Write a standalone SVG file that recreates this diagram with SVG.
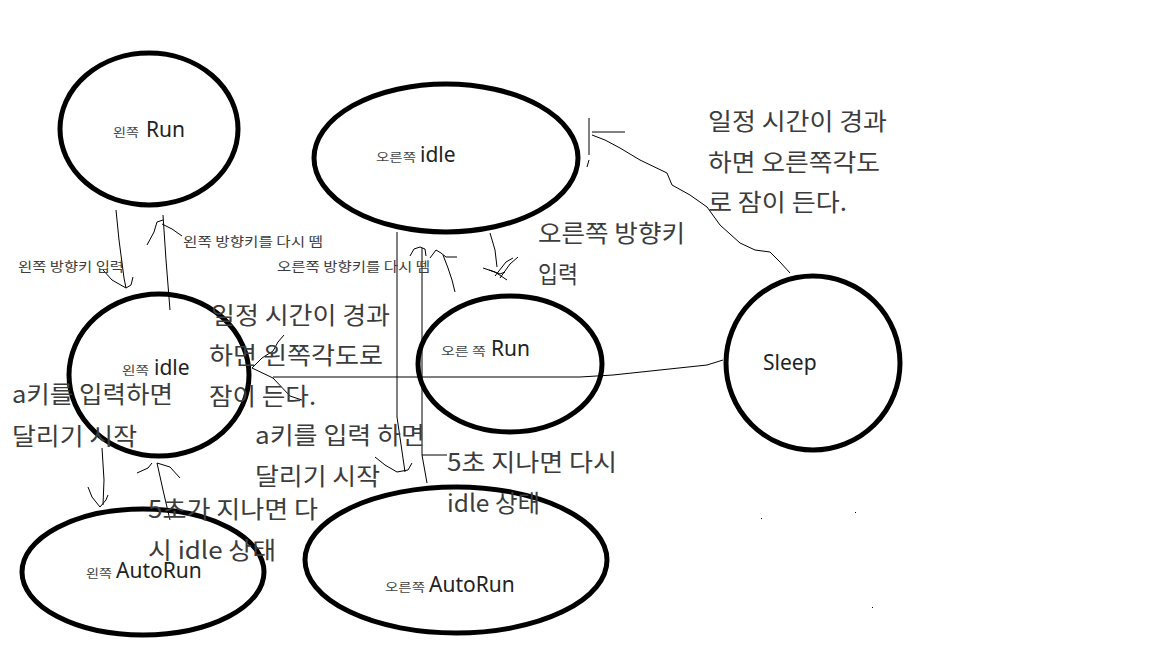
<svg xmlns="http://www.w3.org/2000/svg" width="1154" height="648" viewBox="0 0 1154 648">
<style>
.st{fill:none;stroke:#000;stroke-width:5}
.ln{fill:none;stroke:#000;stroke-width:1}
.big{font-family:"Noto Sans CJK KR","Noto Sans",sans-serif;font-size:24px;fill:#3c3c3c}
.sm{font-family:"Noto Sans CJK KR","Noto Sans",sans-serif;font-size:13px;fill:#3c3c3c}
.nl{font-family:"Noto Sans","Noto Sans CJK KR",sans-serif;font-size:21px;fill:#222}
.ns{font-family:"Noto Sans CJK KR",sans-serif;font-size:12.5px;fill:#444}
</style>
<rect width="1154" height="648" fill="#fff"/>
<g id="node-left-run">
<ellipse class="st" cx="149" cy="129" rx="89" ry="76"/>
<text x="113" y="137" class="ns" textLength="26" lengthAdjust="spacingAndGlyphs">왼쪽</text><text x="146" y="137" class="nl">Run</text>
</g>
<g id="node-right-idle">
<ellipse class="st" cx="446" cy="158" rx="132" ry="74"/>
<text x="376" y="162" class="ns" textLength="40" lengthAdjust="spacingAndGlyphs">오른쪽</text><text x="420" y="162" class="nl">idle</text>
</g>
<g id="node-left-idle">
<ellipse class="st" cx="159" cy="375" rx="90" ry="81"/>
<text x="122" y="375" class="ns" textLength="27" lengthAdjust="spacingAndGlyphs">왼쪽</text><text x="154" y="375" class="nl">idle</text>
</g>
<g id="node-right-run">
<ellipse class="st" cx="510" cy="364" rx="92" ry="68"/>
<text x="441" y="356" class="ns" textLength="45" lengthAdjust="spacingAndGlyphs">오른 쪽</text><text x="491" y="356" class="nl">Run</text>
</g>
<g id="node-sleep">
<ellipse class="st" cx="813" cy="363" rx="87" ry="87"/>
<text x="763" y="370" class="nl">Sleep</text>
</g>
<g id="node-left-autorun">
<ellipse class="st" cx="143" cy="572" rx="121" ry="63"/>
<text x="86" y="578" class="ns" textLength="26" lengthAdjust="spacingAndGlyphs">왼쪽</text><text x="116" y="578" class="nl">AutoRun</text>
</g>
<g id="node-right-autorun">
<ellipse class="st" cx="456" cy="560" rx="151" ry="73"/>
<text x="385" y="592" class="ns" textLength="40" lengthAdjust="spacingAndGlyphs">오른쪽</text><text x="429" y="592" class="nl">AutoRun</text>
</g>
<g id="connectors">
<path class="ln" d="M116,210 L119,240 L124,278 L126,288 M103,270 L112,280 L126,288 L131,285 L133,277"/>
<path class="ln" d="M163,215 L166,260 L170,310 M147,245 L154,232 L157,222 L163,220 M162,224 L172,229 L182,236"/>
<path class="ln" d="M397,232 L397,417 L405,472 M375,457 L385,465 L397,472 L408,470 L412,463"/>
<path class="ln" d="M422,248 L422,455 L427,483 M422,455 L447,455 M410,256 L414,249 L420,247 L425,249 L426,256 M430,258 L436,250 L441,253 L446,257 L457,257 M443,255 L448,268 L452,280 L455,292"/>
<path class="ln" d="M490,233 L495,250 L497,267 M483,268 L495,272 L507,280 M500,278 L510,264 L518,257 M495,276 L506,262 L513,258 M489,270 L500,274 L505,272"/>
<path class="ln" d="M589,118 L589,155 M587,167 L589,160 M592,132 L625,132 M592,135 L605,140 L620,148 L640,160 L667,173 L672,185 L690,195 L707,207 L720,225 L740,243 L755,250 L770,252 L780,262 L790,273"/>
<path class="ln" d="M723,360 L707,365 L613,375 L580,377 L273,377 M284,335 L278,342 L273,351 L262,358 L252,368 L273,378 L290,396 L302,400"/>
<path class="ln" d="M102,448 L104,480 L103,505 M88,487 L92,497 L100,507 L106,500 L108,495"/>
<path class="ln" d="M157,463 L163,490 L170,520 M137,473 L148,468 L152,463 M157,463 L170,467 L180,478"/>
</g>
<g id="labels">
<text x="18" y="271" class="sm" textLength="106" lengthAdjust="spacingAndGlyphs">왼쪽 방향키 입력</text>
<text x="183" y="246" class="sm" textLength="140" lengthAdjust="spacingAndGlyphs">왼쪽 방향키를 다시 뗌</text>
<text x="277" y="271" class="sm" textLength="153" lengthAdjust="spacingAndGlyphs">오른쪽 방향키를 다시 뗌</text>
<text x="538" y="242" class="big" textLength="147" lengthAdjust="spacingAndGlyphs">오른쪽 방향키</text>
<text x="538" y="283" class="big" textLength="40" lengthAdjust="spacingAndGlyphs">입력</text>
<text x="708" y="130" class="big" textLength="179" lengthAdjust="spacingAndGlyphs">일정 시간이 경과</text>
<text x="708" y="171" class="big" textLength="172" lengthAdjust="spacingAndGlyphs">하면 오른쪽각도</text>
<text x="708" y="211" class="big" textLength="139" lengthAdjust="spacingAndGlyphs">로 잠이 든다.</text>
<text x="211" y="324" class="big" textLength="179" lengthAdjust="spacingAndGlyphs">일정 시간이 경과</text>
<text x="209" y="364" class="big" textLength="174" lengthAdjust="spacingAndGlyphs">하면 왼쪽각도로</text>
<text x="209" y="405" class="big" textLength="107" lengthAdjust="spacingAndGlyphs">잠이 든다.</text>
<text x="12" y="403" class="big" textLength="161" lengthAdjust="spacingAndGlyphs">a키를 입력하면</text>
<text x="12" y="445" class="big" textLength="125" lengthAdjust="spacingAndGlyphs">달리기 시작</text>
<text x="255" y="444" class="big" textLength="170" lengthAdjust="spacingAndGlyphs">a키를 입력 하면</text>
<text x="255" y="485" class="big" textLength="125" lengthAdjust="spacingAndGlyphs">달리기 시작</text>
<text x="447" y="471" class="big" textLength="170" lengthAdjust="spacingAndGlyphs">5초 지나면 다시</text>
<text x="447" y="512" class="big" textLength="93" lengthAdjust="spacingAndGlyphs">idle 상태</text>
<text x="148" y="518" class="big" textLength="170" lengthAdjust="spacingAndGlyphs">5초가 지나면 다</text>
<text x="148" y="559" class="big" textLength="128" lengthAdjust="spacingAndGlyphs">시 idle 상태</text>
</g>
<rect x="761" y="518" width="1" height="1" fill="#000"/>
<rect x="855" y="512" width="1" height="1" fill="#000"/>
<rect x="872" y="607" width="1" height="1" fill="#000"/>
</svg>
